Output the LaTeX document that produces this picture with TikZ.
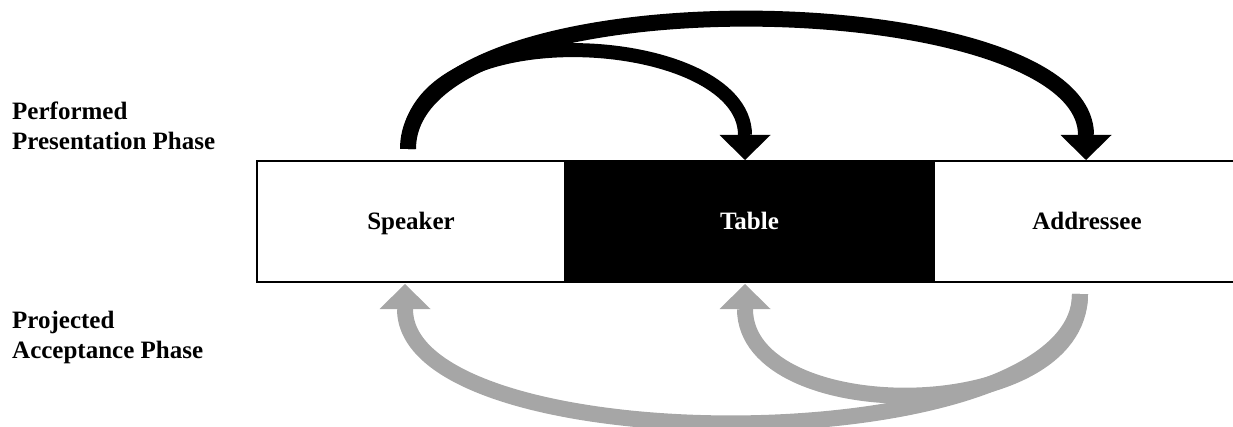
\documentclass[tikz,border=0pt]{standalone}
\usepackage{fontspec}
\setmainfont{Liberation Serif}
\usetikzlibrary{arrows.meta}
\definecolor{replygray}{HTML}{A6A6A6}
\begin{document}
\begin{tikzpicture}[x=1pt,y=1pt,
  cell/.style={draw=black, line width=2pt, minimum height=121pt, inner sep=0pt,
    text height=19pt, text depth=2pt,
    font=\bfseries\fontsize{25}{30}\selectfont},
  phase/.style={align=left, anchor=base west, inner sep=0pt,
    font=\bfseries\fontsize{25}{30}\selectfont},
  flow/.style={line width=#1, line cap=butt,
    -{Triangle[width=51pt,length=25pt,line width=0pt]}},
  presented/.style={flow=#1, draw=black},
  accepted/.style={flow=#1, draw=replygray}
]
\useasboundingbox (0,0) rectangle (1233,426);

% the three participants of the exchange
\node[cell, minimum width=308pt] (speaker) at (411,204.5) {Speaker};
\node[cell, minimum width=369pt, fill=black, text=white] (table) at (749.5,204.5) {Table};
\node[cell, minimum width=306pt] (addressee) at (1087,204.5) {Addressee};

% phase labels
\node[phase] (performed) at (12,276) {Performed\\Presentation Phase};
\node[phase] (projected) at (12,68) {Projected\\Acceptance Phase};

% end points above and below the row of cells
\coordinate (spkTop) at ([xshift=-3pt,yshift=11pt]speaker.north);
\coordinate (tabTop) at ([xshift=-4.5pt]table.north);
\coordinate (addTop) at ([xshift=-1pt]addressee.north);
\coordinate (addBot) at ([xshift=-7pt,yshift=-11pt]addressee.south);
\coordinate (spkBot) at ([xshift=-6pt,yshift=-1pt]speaker.south);
\coordinate (tabBot) at ([xshift=-4.5pt,yshift=-1pt]table.south);

% performed presentation: speaker to table and addressee
\draw[presented=16pt] (spkTop) .. controls +(0,179) and +(0,175) .. (addTop);
\draw[presented=14pt] (spkTop) .. controls +(0,140) and +(0,130) .. (tabTop);

% projected acceptance: addressee back to speaker and table
\draw[accepted=16pt] (addBot) .. controls +(0,-170) and +(0,-180) .. (spkBot);
\draw[accepted=16pt] (addBot) .. controls +(0,-133) and +(0,-143) .. (tabBot);
\end{tikzpicture}
\end{document}
